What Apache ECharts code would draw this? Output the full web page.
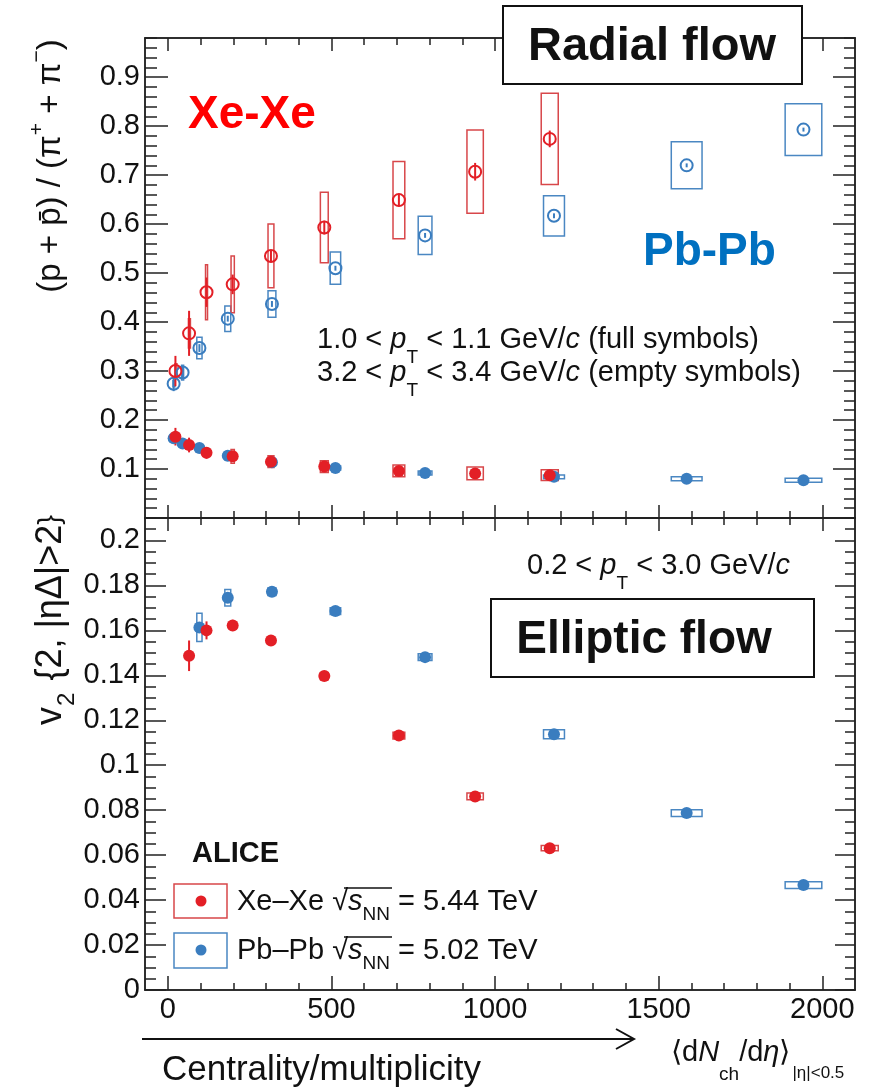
<!DOCTYPE html>
<html><head><meta charset="utf-8">
<script src="https://cdn.jsdelivr.net/npm/echarts@6/dist/echarts.min.js"></script>
<style>html,body{margin:0;padding:0;background:#fff}#c{width:877px;height:1089px}</style>
</head><body><div id="c"></div><script>
// ---------------- data ----------------
// Pb-Pb multiplicities <dNch/deta> and their x-uncertainty (box half widths)
const pbMult    = [17.5, 44.9, 96.3, 183, 318, 512, 786, 1180, 1585.5, 1942.5];
const pbMultSys = [2, 3, 8, 9, 12, 16, 21, 32, 47, 56];
// (p+pbar)/(pi+ + pi-) 1.0<pT<1.1 (full) and 3.2<pT<3.4 (empty)
const pbRatioLow      = [0.163, 0.152, 0.143, 0.127, 0.114, 0.102, 0.092, 0.084, 0.080, 0.077];
const pbRatioLowStat  = [0.006, 0.004, 0.003, 0.003, 0.002, 0.002, 0.002, 0.002, 0.002, 0.002];
const pbRatioLowSys   = [0.004, 0.004, 0.005, 0.008, 0.006, 0.004, 0.004, 0.004, 0.004, 0.004];
const pbRatioHigh     = [0.274, 0.297, 0.347, 0.407, 0.437, 0.510, 0.577, 0.617, 0.720, 0.793];
const pbRatioHighStat = [0.015, 0.012, 0.008, 0.006, 0.006, 0.005, 0.005, 0.005, 0.004, 0.004];
const pbRatioHighSys  = [0.006, 0.015, 0.022, 0.026, 0.027, 0.033, 0.039, 0.041, 0.048, 0.053];
// Xe-Xe
const xeMult    = [23, 64.7, 118, 198, 315, 478, 706, 939, 1167];
const xeMultSys = [1.5, 2, 3, 5, 9, 12, 18, 25, 26];
const xeRatioLow      = [0.166, 0.149, 0.133, 0.126, 0.115, 0.105, 0.096, 0.091, 0.0875];
const xeRatioLowStat  = [0.018, 0.015, 0.012, 0.007, 0.004, 0.003, 0.003, 0.003, 0.003];
const xeRatioLowSys   = [0.005, 0.006, 0.008, 0.014, 0.012, 0.012, 0.012, 0.013, 0.011];
const xeRatioHigh     = [0.300, 0.377, 0.461, 0.477, 0.535, 0.593, 0.649, 0.707, 0.774];
const xeRatioHighStat = [0.031, 0.046, 0.030, 0.020, 0.012, 0.014, 0.013, 0.018, 0.017];
const xeRatioHighSys  = [0.015, 0.030, 0.056, 0.058, 0.065, 0.072, 0.079, 0.085, 0.093];
// v2{2,|deta|>2}, 0.2<pT<3.0
const xeV2Mult    = [64.7, 118, 198, 315, 478, 706, 939, 1167];
const xeV2MultSys = [2, 3, 5, 9, 12, 18, 25, 26];
const xeV2     = [0.1487, 0.1600, 0.1622, 0.1555, 0.1397, 0.1132, 0.0861, 0.0631];
const xeV2Stat = [0.0068, 0.0040, 0.0025, 0.0018, 0.0012, 0.0010, 0.0008, 0.0008];
const xeV2Sys  = [0.0020, 0.0020, 0.0015, 0.0015, 0.0015, 0.0015, 0.0015, 0.0012];
const pbV2Mult    = [96.3, 183, 318, 512, 786, 1180, 1585.5, 1942.5];
const pbV2MultSys = [8, 9, 12, 16, 21, 32, 47, 56];
const pbV2     = [0.1613, 0.1745, 0.1772, 0.1686, 0.1481, 0.1138, 0.0787, 0.0467];
const pbV2Stat = [0.0010, 0.0008, 0.0006, 0.0006, 0.0006, 0.0006, 0.0006, 0.0006];
const pbV2Sys  = [0.0063, 0.0037, 0.0017, 0.0015, 0.0015, 0.0020, 0.0015, 0.0015];
// tick labels
const xTickLabels = [0, 500, 1000, 1500, 2000];
const yTopTickLabels = [0.1, 0.2, 0.3, 0.4, 0.5, 0.6, 0.7, 0.8, 0.9];
const yBotTickLabels = [0, 0.02, 0.04, 0.06, 0.08, 0.1, 0.12, 0.14, 0.16, 0.18, 0.2];

// ---------------- style ----------------
const FONT = '"Liberation Sans", Arial, Helvetica, sans-serif';
const RED = '#e31f26', BLUE = '#3a7dbf';
const RED_BOX = '#d8474a', BLUE_BOX = '#4a87c2';
const AX = '#222';

function minorVals(step, n, every) {
  const out = [];
  for (let k = 1; k <= n; k++) if (k % every !== 0) out.push(+(k * step).toFixed(4));
  return out;
}
const xMinor = minorVals(100, 20, 5);
const yTopMinor = minorVals(0.02, 49, 5);
const yBotMinor = minorVals(0.005, 42, 4);

function xAx(grid, pos, vals, len, labels) {
  return {
    type: 'value', gridIndex: grid, position: pos, min: -70, max: 2100,
    axisLine: { show: true, onZero: false, lineStyle: { color: AX, width: 1.5 } },
    axisTick: { show: true, inside: true, length: len, customValues: vals, lineStyle: { color: AX, width: 1.5 } },
    axisLabel: labels ? { show: true, customValues: vals, margin: 5, fontSize: 29, fontFamily: FONT, color: '#111',
      formatter: v => String(v) } : { show: false },
    splitLine: { show: false }
  };
}
function yAx(grid, pos, min, max, vals, len, labels) {
  return {
    type: 'value', gridIndex: grid, position: pos, min: min, max: max,
    axisLine: { show: true, onZero: false, lineStyle: { color: AX, width: 1.5 } },
    axisTick: { show: true, inside: true, length: len, customValues: vals, lineStyle: { color: AX, width: 1.5 } },
    axisLabel: labels ? { show: true, customValues: vals, margin: 5, fontSize: 29, fontFamily: FONT, color: '#111',
      formatter: v => String(+(+v).toFixed(3)) } : { show: false },
    splitLine: { show: false }
  };
}

function boxSeries(ax, xs, dxs, ys, dys, color) {
  return {
    type: 'custom', xAxisIndex: ax, yAxisIndex: ax, z: 2, silent: true, clip: false,
    data: xs.map((x, i) => [x, ys[i], dxs[i], dys[i]]),
    renderItem: (params, api) => {
      const x = api.value(0), y = api.value(1), dx = api.value(2), dy = api.value(3);
      const p1 = api.coord([x - dx, y + dy]), p2 = api.coord([x + dx, y - dy]);
      return { type: 'rect', shape: { x: p1[0], y: p1[1], width: Math.max(p2[0] - p1[0], 2), height: p2[1] - p1[1] },
        style: { fill: 'none', stroke: color, lineWidth: 1.5 } };
    }
  };
}
function barSeries(ax, xs, ys, es, color) {
  return {
    type: 'custom', xAxisIndex: ax, yAxisIndex: ax, z: 3, silent: true, clip: false,
    data: xs.map((x, i) => [x, ys[i], es[i]]),
    renderItem: (params, api) => {
      const x = api.value(0), y = api.value(1), e = api.value(2);
      const p1 = api.coord([x, y + e]), p2 = api.coord([x, y - e]);
      return { type: 'line', shape: { x1: p1[0], y1: p1[1], x2: p2[0], y2: p2[1] },
        style: { stroke: color, lineWidth: 2 } };
    }
  };
}
function markSeries(ax, xs, ys, color, open) {
  return {
    type: 'scatter', xAxisIndex: ax, yAxisIndex: ax, z: 4, silent: true,
    symbol: 'circle', symbolSize: 12,
    data: xs.map((x, i) => [x, ys[i]]),
    itemStyle: open ? { color: 'rgba(255,255,255,0)', borderColor: color, borderWidth: 2, opacity: 1 }
                    : { color: color, opacity: 1 }
  };
}

const chart = echarts.init(document.getElementById('c'), null, { renderer: 'canvas' });

const grids = [
  { left: 145, top: 38, width: 710, height: 480, containLabel: false, outerBoundsMode: 'none' },
  { left: 145, top: 518, width: 710, height: 472, containLabel: false, outerBoundsMode: 'none' }
];

const xAxes = [
  xAx(0, 'bottom', xTickLabels, 13, false), xAx(0, 'bottom', xMinor, 7, false),
  xAx(0, 'top', xTickLabels, 13, false), xAx(0, 'top', xMinor, 7, false),
  xAx(1, 'bottom', xTickLabels, 14, true), xAx(1, 'bottom', xMinor, 7, false),
  xAx(1, 'top', xTickLabels, 13, false), xAx(1, 'top', xMinor, 7, false)
];
const yAxes = [
  yAx(0, 'left', 0, 0.98, yTopTickLabels, 23, true), yAx(0, 'left', 0, 0.98, yTopMinor, 12, false),
  yAx(0, 'right', 0, 0.98, yTopTickLabels, 22, false), yAx(0, 'right', 0, 0.98, yTopMinor, 11, false),
  yAx(1, 'left', 0, 0.21, yBotTickLabels, 21, true), yAx(1, 'left', 0, 0.21, yBotMinor, 11, false),
  yAx(1, 'right', 0, 0.21, yBotTickLabels, 20, false), yAx(1, 'right', 0, 0.21, yBotMinor, 10, false)
];

const series = [
  // top panel boxes
  boxSeries(0, pbMult, pbMultSys, pbRatioHigh, pbRatioHighSys, BLUE_BOX),
  boxSeries(0, xeMult, xeMultSys, xeRatioHigh, xeRatioHighSys, RED_BOX),
  boxSeries(0, pbMult, pbMultSys, pbRatioLow, pbRatioLowSys, BLUE_BOX),
  boxSeries(0, xeMult, xeMultSys, xeRatioLow, xeRatioLowSys, RED_BOX),
  barSeries(0, pbMult, pbRatioHigh, pbRatioHighStat, BLUE),
  barSeries(0, xeMult, xeRatioHigh, xeRatioHighStat, RED),
  barSeries(0, pbMult, pbRatioLow, pbRatioLowStat, BLUE),
  barSeries(0, xeMult, xeRatioLow, xeRatioLowStat, RED),
  markSeries(0, pbMult, pbRatioHigh, BLUE, true),
  markSeries(0, xeMult, xeRatioHigh, RED, true),
  markSeries(0, pbMult, pbRatioLow, BLUE, false),
  markSeries(0, xeMult, xeRatioLow, RED, false),
  // bottom panel
  boxSeries(4, pbV2Mult, pbV2MultSys, pbV2, pbV2Sys, BLUE_BOX),
  boxSeries(4, xeV2Mult, xeV2MultSys, xeV2, xeV2Sys, RED_BOX),
  barSeries(4, pbV2Mult, pbV2, pbV2Stat, BLUE),
  barSeries(4, xeV2Mult, xeV2, xeV2Stat, RED),
  markSeries(4, pbV2Mult, pbV2, BLUE, false),
  markSeries(4, xeV2Mult, xeV2, RED, false)
];

function txt(x, y, text, opts) {
  return { type: 'text', x: x, y: y, z: 20, silent: true,
    style: Object.assign({ text: text, fontFamily: FONT, fontSize: 29, fill: '#111',
      align: 'left', verticalAlign: 'middle', textAlign: 'left', textVerticalAlign: 'middle' }, opts || {}) };
}
const richBase = {
  n: { fontSize: 29, fontFamily: FONT, fill: '#111' },
  i: { fontSize: 29, fontFamily: FONT, fontStyle: 'italic', fill: '#111' },
  sub: { fontSize: 19, fontFamily: FONT, fill: '#111', padding: [36, 0, 0, 0] },
  nn: { fontSize: 19, fontFamily: FONT, fill: '#111', padding: [26, 0, 0, 0] }
};

const yTitleTop = txt(51, 166, '{n|(p + p̄) / (π}{sup|+}{n| + π}{sup|−}{n|)}', { align: 'center', textAlign: 'center',
    rich: { n: { fontSize: 33, fontFamily: FONT, fill: '#111' },
            sup: { fontSize: 21, fontFamily: FONT, fill: '#111', padding: [0, 0, 28, 0] } } });
yTitleTop.rotation = Math.PI / 2;
const yTitleBot = txt(51, 620, '{n|v}{sub|2}{n| {2, |ηΔ|>2}}', { align: 'center', textAlign: 'center',
    rich: { n: { fontSize: 36, fontFamily: FONT, fill: '#111' },
            sub: { fontSize: 24, fontFamily: FONT, fill: '#111', padding: [32, 2, 0, 1] } } });
yTitleBot.rotation = Math.PI / 2;

const graphic = [
  // Radial flow box
  { type: 'rect', z: 20, silent: true, shape: { x: 503, y: 6, width: 299, height: 78 },
    style: { fill: '#fff', stroke: '#111', lineWidth: 2 } },
  txt(652, 47, 'Radial flow', { fontSize: 47, fontWeight: 'bold', align: 'center', textAlign: 'center' }),
  // Elliptic flow box
  { type: 'rect', z: 20, silent: true, shape: { x: 491, y: 599, width: 323, height: 78 },
    style: { fill: '#fff', stroke: '#111', lineWidth: 2 } },
  txt(644, 640, 'Elliptic flow', { fontSize: 46, fontWeight: 'bold', align: 'center', textAlign: 'center' }),
  txt(188, 115, 'Xe-Xe', { fontSize: 46, fontWeight: 'bold', fill: '#ff0000' }),
  txt(643, 252, 'Pb-Pb', { fontSize: 46, fontWeight: 'bold', fill: '#0070c0' }),
  txt(317, 340, '{n|1.0 < }{i|p}{sub|T}{n| < 1.1 GeV/}{i|c}{n| (full symbols)}', { rich: richBase }),
  txt(317, 373, '{n|3.2 < }{i|p}{sub|T}{n| < 3.4 GeV/}{i|c}{n| (empty symbols)}', { rich: richBase }),
  txt(527, 566, '{n|0.2 < }{i|p}{sub|T}{n| < 3.0 GeV/}{i|c}', { rich: richBase }),
  txt(192, 854, 'ALICE', { fontSize: 29, fontWeight: 'bold' }),
  // legend
  { type: 'rect', z: 20, silent: true, shape: { x: 174, y: 884, width: 53, height: 34 },
    style: { fill: 'none', stroke: RED_BOX, lineWidth: 1.5 } },
  { type: 'circle', z: 20, silent: true, shape: { cx: 201, cy: 901, r: 5.5 }, style: { fill: RED } },
  { type: 'rect', z: 20, silent: true, shape: { x: 174, y: 933, width: 53, height: 35 },
    style: { fill: 'none', stroke: BLUE_BOX, lineWidth: 1.5 } },
  { type: 'circle', z: 20, silent: true, shape: { cx: 201, cy: 950, r: 5.5 }, style: { fill: BLUE } },
  txt(237, 902, '{n|Xe–Xe }{n|√}{i|s}{nn|NN}{n| = 5.44 TeV}', { rich: richBase }),
  txt(237, 951, '{n|Pb–Pb }{n|√}{i|s}{nn|NN}{n| = 5.02 TeV}', { rich: richBase }),
  { type: 'line', z: 20, silent: true, shape: { x1: 344, y1: 888, x2: 392, y2: 888 }, style: { stroke: '#111', lineWidth: 1.5 } },
  { type: 'line', z: 20, silent: true, shape: { x1: 344, y1: 937, x2: 392, y2: 937 }, style: { stroke: '#111', lineWidth: 1.5 } },
  // y titles
  yTitleTop,
  yTitleBot,
  // x title
  txt(671, 1053, '{n|⟨d}{i|N}{s1|ch}{n|/d}{i|η}{n|⟩}{s2||η|<0.5}', {
    rich: { n: { fontSize: 29, fontFamily: FONT, fill: '#111' },
            i: { fontSize: 29, fontFamily: FONT, fontStyle: 'italic', fill: '#111' },
            s1: { fontSize: 19, fontFamily: FONT, fill: '#111', padding: [44, 0, 0, 0] },
            s2: { fontSize: 17, fontFamily: FONT, fill: '#111', padding: [40, 0, 0, 2] } } }),
  txt(162, 1070, 'Centrality/multiplicity', { fontSize: 35 }),
  // arrow
  { type: 'line', z: 20, silent: true, shape: { x1: 142, y1: 1039, x2: 633, y2: 1039 }, style: { stroke: '#111', lineWidth: 2 } },
  { type: 'polyline', z: 20, silent: true, shape: { points: [[616, 1029], [634, 1039], [616, 1049]] },
    style: { stroke: '#111', lineWidth: 2, fill: 'none' } }
];

chart.setOption({
  animation: false,
  backgroundColor: '#fff',
  grid: grids,
  xAxis: xAxes,
  yAxis: yAxes,
  series: series,
  graphic: { elements: graphic }
});
</script></body></html>
